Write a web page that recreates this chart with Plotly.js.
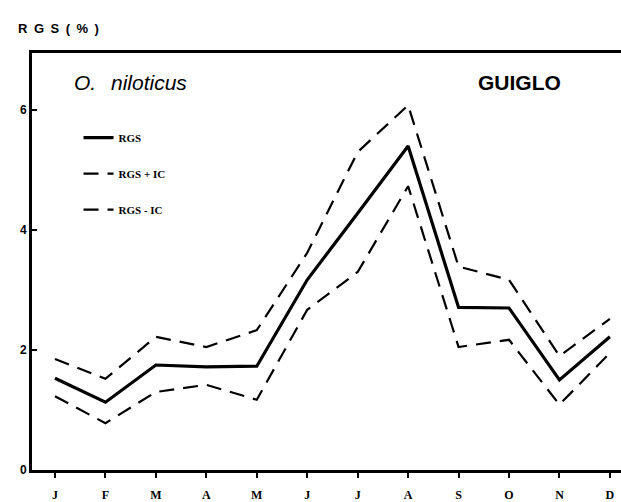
<!DOCTYPE html>
<html>
<head>
<meta charset="utf-8">
<script src="https://cdn.plot.ly/plotly-3.0.1.min.js"></script>
<style>html,body{margin:0;padding:0;background:#fff;}#chart{width:621px;height:502px;}</style>
</head>
<body>
<div id="chart"></div>
<script>
const months = ["J","F","M","A","M","J","J","A","S","O","N","D"];
const rgs      = [1.53, 1.13, 1.75, 1.72, 1.73, 3.17, 4.28, 5.40, 2.71, 2.70, 1.50, 2.22];
const rgsPlus  = [1.85, 1.52, 2.22, 2.05, 2.33, 3.62, 5.30, 6.08, 3.39, 3.17, 1.90, 2.52];
const rgsMinus = [1.23, 0.78, 1.30, 1.42, 1.17, 2.67, 3.30, 4.73, 2.05, 2.17, 1.09, 1.95];
const yTicks = [0, 2, 4, 6];

const xIdx = months.map((m, i) => i);

const traces = [
  {x: xIdx, y: rgs, name: "RGS", mode: "lines", legendgroup: "a",
   line: {color: "#000", width: 3.2}},
  {x: xIdx, y: rgsPlus, name: "RGS + IC", mode: "lines", legendgroup: "b",
   line: {color: "#000", width: 2.2, dash: "15px,9px"}},
  {x: xIdx, y: rgsMinus, name: "RGS - IC", mode: "lines", legendgroup: "c",
   line: {color: "#000", width: 2.2, dash: "15px,9px"}}
];

const layout = {
  width: 621, height: 502,
  margin: {l: 32, r: 0, t: 53, b: 32},
  paper_bgcolor: "#fff", plot_bgcolor: "#fff",
  showlegend: true,
  legend: {x: 0.079, y: 0.832, xanchor: "left", yanchor: "top",
           tracegroupgap: 17, bgcolor: "rgba(0,0,0,0)",
           font: {family: "Liberation Serif", size: 11, color: "#000", weight: "bold"}},
  xaxis: {
    range: [-0.456, 11.22],
    tickmode: "array", tickvals: xIdx, ticktext: months,
    showgrid: false, zeroline: false,
    showline: true, linecolor: "#000", linewidth: 3, mirror: true,
    ticks: "outside", ticklen: 5, tickwidth: 2, tickcolor: "#000",
    ticklabelstandoff: 7,
    tickfont: {family: "Liberation Serif", size: 12, color: "#000", weight: "bold"}
  },
  yaxis: {
    range: [0, 6.95],
    tickmode: "array", tickvals: yTicks, ticktext: yTicks.map(String),
    showgrid: false, zeroline: false,
    showline: true, linecolor: "#000", linewidth: 3, mirror: false,
    ticks: "inside", ticklen: 5, tickwidth: 2, tickcolor: "#000",
    tickfont: {family: "Liberation Sans", size: 12, color: "#000", weight: "bold"}
  },
  annotations: [
    {text: "R\u2002G\u2002S\u2002(\u2002%\u2002)", xref: "paper", yref: "paper", x: -0.027, y: 1.059,
     xanchor: "left", yanchor: "middle", showarrow: false,
     font: {family: "Liberation Sans", size: 13, color: "#000", weight: "bold"}},
    {text: "<i>O.</i>", xref: "paper", yref: "paper", x: 0.068, y: 0.93,
     xanchor: "left", yanchor: "middle", showarrow: false,
     font: {family: "Liberation Sans", size: 21, color: "#000"}},
    {text: "<i>niloticus</i>", xref: "paper", yref: "paper", x: 0.131, y: 0.93,
     xanchor: "left", yanchor: "middle", showarrow: false,
     font: {family: "Liberation Sans", size: 21, color: "#000"}},
    {text: "<b>GUIGLO</b>", xref: "paper", yref: "paper", x: 0.827, y: 0.93,
     xanchor: "center", yanchor: "middle", showarrow: false,
     font: {family: "Liberation Sans", size: 21, color: "#000"}}
  ]
};

Plotly.newPlot("chart", traces, layout, {staticPlot: true, displayModeBar: false});
</script>
</body>
</html>
